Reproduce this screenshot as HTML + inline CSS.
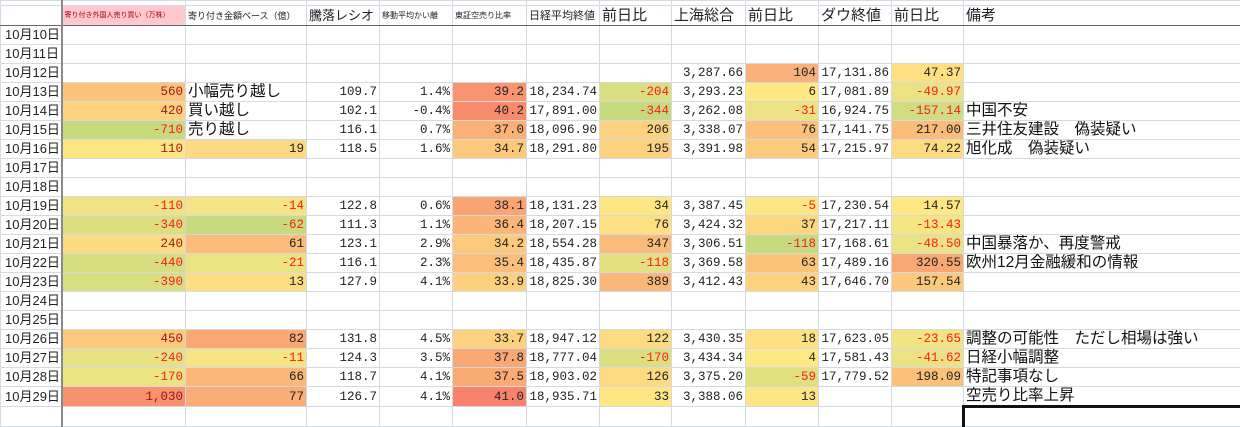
<!DOCTYPE html>
<html><head><meta charset="utf-8"><style>
html,body{margin:0;padding:0;background:#fff;width:1240px;height:409px;overflow:hidden}
table{border-collapse:collapse;table-layout:fixed;position:absolute;left:0;top:0;width:1240px}
td{border:1px solid #d4d9e3;padding:0 2px 0 2px;overflow:hidden;white-space:nowrap;height:18px;line-height:18px;font-family:"Liberation Mono","Noto Sans CJK JP",monospace;font-size:12.5px;color:#222;text-align:right}
td:first-child{border-right:2px solid #8a8a8a;text-align:left;font-family:"Liberation Sans","Noto Sans CJK JP",sans-serif;font-size:13px;padding-left:4px}
tr.top td{height:4px;line-height:4px}
tr.hd td{height:19px;border-bottom:1px solid #666;text-align:left;font-family:"Liberation Sans","Noto Sans CJK JP",sans-serif;color:#222;vertical-align:bottom;padding-bottom:0}
td.j{text-align:left;font-family:"Liberation Sans","Noto Sans CJK JP",sans-serif;font-size:15.5px;color:#111}
td.rm{text-align:left;font-family:"Liberation Sans","Noto Sans CJK JP",sans-serif;font-size:15.5px;color:#111;overflow:visible}
.n{color:#ff1a1a}
.m{color:#9c1515}
</style></head><body>
<table>
<colgroup><col style="width:61px"><col style="width:124px"><col style="width:121px"><col style="width:73px"><col style="width:73px"><col style="width:74px"><col style="width:73px"><col style="width:72px"><col style="width:74px"><col style="width:73px"><col style="width:73px"><col style="width:72px"><col style="width:277px"></colgroup>
<tr class="top"><td></td><td></td><td></td><td></td><td></td><td></td><td></td><td></td><td></td><td></td><td></td><td></td><td></td></tr>
<tr class="hd"><td></td><td style="background:#ffc7ce;color:#9c0006;font-size:7px">寄り付き外国人売り買い（万株）</td><td style="font-size:9px">寄り付き金額ベース（億）</td><td style="font-size:13px">騰落レシオ</td><td style="font-size:8px">移動平均かい離</td><td style="font-size:8px">東証空売り比率</td><td style="font-size:11px">日経平均終値</td><td style="font-size:15px">前日比</td><td style="font-size:15px">上海総合</td><td style="font-size:15px">前日比</td><td style="font-size:15px">ダウ終値</td><td style="font-size:15px">前日比</td><td style="font-size:15px">備考</td></tr>
<tr><td>10月10日</td><td></td><td></td><td></td><td></td><td></td><td></td><td></td><td></td><td></td><td></td><td></td><td></td></tr>
<tr><td>10月11日</td><td></td><td></td><td></td><td></td><td></td><td></td><td></td><td></td><td></td><td></td><td></td><td></td></tr>
<tr><td>10月12日</td><td></td><td></td><td></td><td></td><td></td><td></td><td></td><td>3,287.66</td><td style="background:#f9b07a">104</td><td>17,131.86</td><td style="background:#fedf82">47.37</td><td></td></tr>
<tr><td>10月13日</td><td class="m" style="background:#fcc47b">560</td><td class="j">小幅売り越し</td><td>109.7</td><td>1.4%</td><td style="background:#f9946f">39.2</td><td>18,234.74</td><td class="n" style="background:#d9de80">-204</td><td>3,293.23</td><td style="background:#fee983">6</td><td>17,081.89</td><td class="n" style="background:#eae283">-49.97</td><td></td></tr>
<tr><td>10月14日</td><td class="m" style="background:#fdd27f">420</td><td class="j">買い越し</td><td>102.1</td><td>-0.4%</td><td style="background:#f88b6c">40.2</td><td>17,891.00</td><td class="n" style="background:#c5d97d">-344</td><td>3,262.08</td><td class="n" style="background:#ede283">-31</td><td>16,924.75</td><td class="n" style="background:#cfdc7f">-157.14</td><td class="rm">中国不安</td></tr>
<tr><td>10月15日</td><td class="n" style="background:#c8da7e">-710</td><td class="j">売り越し</td><td>116.1</td><td>0.7%</td><td style="background:#fbb076">37.0</td><td>18,096.90</td><td style="background:#fdd27f">206</td><td>3,338.07</td><td style="background:#fbc07a">76</td><td>17,141.75</td><td style="background:#fbbb79">217.00</td><td class="rm">三井住友建設　偽装疑い</td></tr>
<tr><td>10月16日</td><td class="m" style="background:#fde583">110</td><td style="background:#fdd981">19</td><td>118.5</td><td>1.6%</td><td style="background:#fcc87c">34.7</td><td>18,291.80</td><td style="background:#fdd27f">195</td><td>3,391.98</td><td style="background:#fcca7d">54</td><td>17,215.97</td><td style="background:#fddb81">74.22</td><td class="rm">旭化成　偽装疑い</td></tr>
<tr><td>10月17日</td><td></td><td></td><td></td><td></td><td></td><td></td><td></td><td></td><td></td><td></td><td></td><td></td></tr>
<tr><td>10月18日</td><td></td><td></td><td></td><td></td><td></td><td></td><td></td><td></td><td></td><td></td><td></td><td></td></tr>
<tr><td>10月19日</td><td class="n" style="background:#f0e383">-110</td><td class="n" style="background:#f4e483">-14</td><td>122.8</td><td>0.6%</td><td style="background:#faa472">38.1</td><td>18,131.23</td><td style="background:#fee683">34</td><td>3,387.45</td><td class="n" style="background:#fbe783">-5</td><td>17,230.54</td><td style="background:#fee883">14.57</td><td></td></tr>
<tr><td>10月20日</td><td class="n" style="background:#dcdf80">-340</td><td class="n" style="background:#c8da7e">-62</td><td>111.3</td><td>1.1%</td><td style="background:#fbb577">36.4</td><td>18,207.15</td><td style="background:#fde081">76</td><td>3,424.32</td><td style="background:#fdd680">37</td><td>17,217.11</td><td class="n" style="background:#f6e583">-13.43</td><td></td></tr>
<tr><td>10月21日</td><td class="m" style="background:#fddb81">240</td><td style="background:#fbbb7a">61</td><td>123.1</td><td>2.9%</td><td style="background:#fcca7d">34.2</td><td>18,554.28</td><td style="background:#fbbc79">347</td><td>3,306.51</td><td class="n" style="background:#c8da7e">-118</td><td>17,168.61</td><td class="n" style="background:#ebe283">-48.50</td><td class="rm">中国暴落か、再度警戒</td></tr>
<tr><td>10月22日</td><td class="n" style="background:#d6de80">-440</td><td class="n" style="background:#ebe282">-21</td><td>116.1</td><td>2.3%</td><td style="background:#fcbf7a">35.4</td><td>18,435.87</td><td class="n" style="background:#e2e081">-118</td><td>3,369.58</td><td style="background:#fcc47b">63</td><td>17,489.16</td><td style="background:#f9a873">320.55</td><td class="rm">欧州12月金融緩和の情報</td></tr>
<tr><td>10月23日</td><td class="n" style="background:#d9de80">-390</td><td style="background:#fddd81">13</td><td>127.9</td><td>4.1%</td><td style="background:#fdd07e">33.9</td><td>18,825.30</td><td style="background:#fbb777">389</td><td>3,412.43</td><td style="background:#fdd27f">43</td><td>17,646.70</td><td style="background:#fcc87c">157.54</td><td></td></tr>
<tr><td>10月24日</td><td></td><td></td><td></td><td></td><td></td><td></td><td></td><td></td><td></td><td></td><td></td><td></td></tr>
<tr><td>10月25日</td><td></td><td></td><td></td><td></td><td></td><td></td><td></td><td></td><td></td><td></td><td></td><td></td></tr>
<tr><td>10月26日</td><td class="m" style="background:#fcc87c">450</td><td style="background:#f9a873">82</td><td>131.8</td><td>4.5%</td><td style="background:#fdd27f">33.7</td><td>18,947.12</td><td style="background:#fddb80">122</td><td>3,430.35</td><td style="background:#fde081">18</td><td>17,623.05</td><td class="n" style="background:#f2e483">-23.65</td><td class="rm">調整の可能性　ただし相場は強い</td></tr>
<tr><td>10月27日</td><td class="n" style="background:#e6e182">-240</td><td class="n" style="background:#f5e483">-11</td><td>124.3</td><td>3.5%</td><td style="background:#faa873">37.8</td><td>18,777.04</td><td class="n" style="background:#dcdf80">-170</td><td>3,434.34</td><td style="background:#fee883">4</td><td>17,581.43</td><td class="n" style="background:#ede283">-41.62</td><td class="rm">日経小幅調整</td></tr>
<tr><td>10月28日</td><td class="n" style="background:#ebe282">-170</td><td style="background:#fab777">66</td><td>118.7</td><td>4.1%</td><td style="background:#faab74">37.5</td><td>18,903.02</td><td style="background:#fdda80">126</td><td>3,375.20</td><td class="n" style="background:#e0e081">-59</td><td>17,779.52</td><td style="background:#fbc07a">198.09</td><td class="rm">特記事項なし</td></tr>
<tr><td>10月29日</td><td class="m" style="background:#f8926e">1,030</td><td style="background:#faad74">77</td><td>126.7</td><td>4.1%</td><td style="background:#f8826b">41.0</td><td>18,935.71</td><td style="background:#fee683">33</td><td>3,388.06</td><td style="background:#fde582">13</td><td></td><td></td><td class="rm">空売り比率上昇</td></tr>
<tr><td></td><td></td><td></td><td></td><td></td><td></td><td></td><td></td><td></td><td></td><td></td><td></td><td style="border-top:3px solid #111;border-left:3px solid #111"></td></tr>
</table>
</body></html>
